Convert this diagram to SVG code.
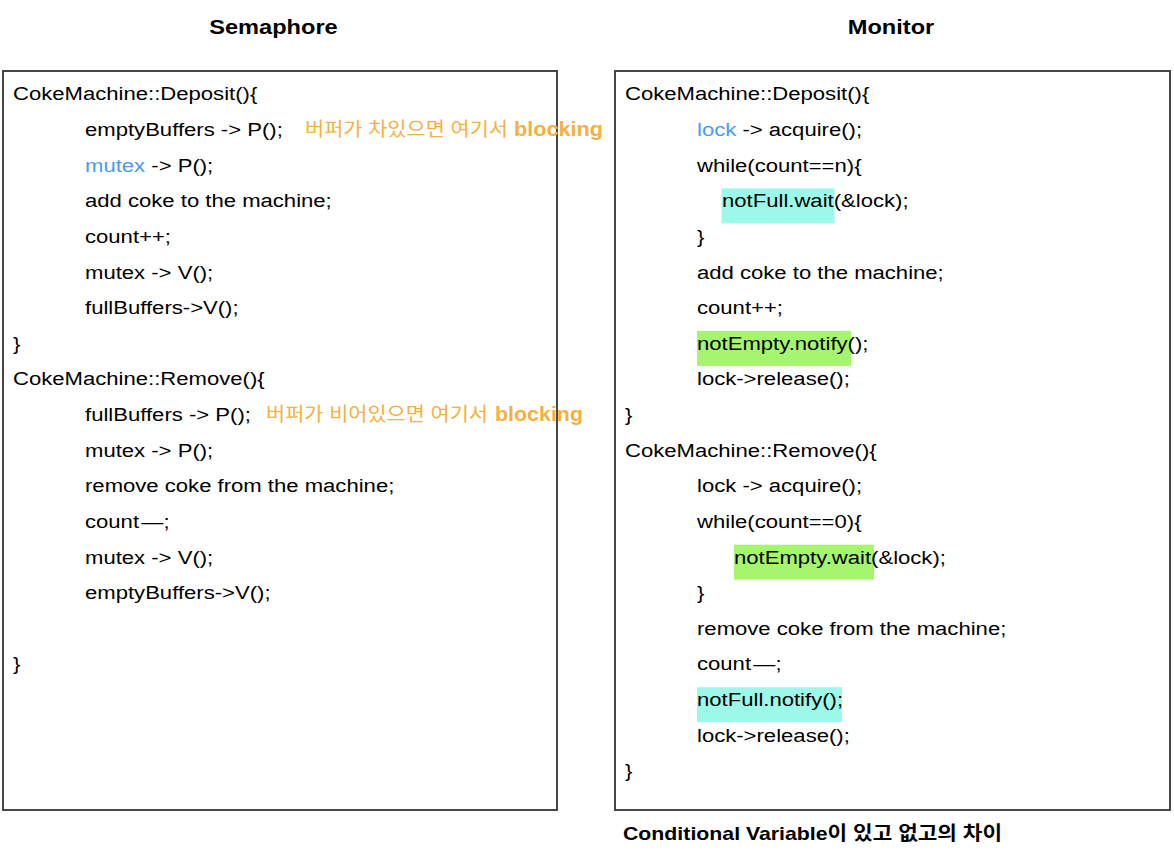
<svg xmlns="http://www.w3.org/2000/svg" width="1174" height="858" viewBox="0 0 1174 858">
<style>
text{font-family:"Liberation Sans",Arial,"Noto Sans CJK KR",sans-serif;fill:#000}
.c{font-size:19px}
.t{font-size:20px;font-weight:bold}
.blue{fill:#4A9BF0}
.ann{font-size:19.5px;fill:#F4B041}
.annb{font-size:19.5px;fill:#F4B041;font-weight:bold}
.lbl{font-size:19px;font-weight:bold}
.box{fill:#fff;stroke:#333;stroke-width:1.8}
.hc{fill:#9CF8E8}
.hg{fill:#A5F56E}
</style>
<rect width="1174" height="858" fill="#fff"/>
<g id="title-semaphore"><text class="t" text-anchor="middle" transform="translate(273.5,34) scale(1.18,1)">Semaphore</text></g>
<g id="title-monitor"><text class="t" text-anchor="middle" transform="translate(891,34) scale(1.18,1)">Monitor</text></g>

<g id="semaphore-box">
<rect class="box" x="3" y="71" width="554" height="739"/>
<text class="c" transform="translate(13,100.3) scale(1.163,1)">CokeMachine::Deposit(){</text>
<text class="c" transform="translate(85,135.9) scale(1.163,1)">emptyBuffers -&gt; P();</text>
<text class="c" transform="translate(85,171.6) scale(1.163,1)"><tspan class="blue">mutex</tspan> -&gt; P();</text>
<text class="c" transform="translate(85,207.2) scale(1.163,1)">add coke to the machine;</text>
<text class="c" transform="translate(85,242.8) scale(1.163,1)">count++;</text>
<text class="c" transform="translate(85,278.5) scale(1.163,1)">mutex -&gt; V();</text>
<text class="c" transform="translate(85,314.1) scale(1.163,1)">fullBuffers-&gt;V();</text>
<text class="c" transform="translate(13,349.7) scale(1.163,1)">}</text>
<text class="c" transform="translate(13,385.3) scale(1.163,1)">CokeMachine::Remove(){</text>
<text class="c" transform="translate(85,421) scale(1.163,1)">fullBuffers -&gt; P();</text>
<text class="c" transform="translate(85,456.6) scale(1.163,1)">mutex -&gt; P();</text>
<text class="c" transform="translate(85,492.2) scale(1.163,1)">remove coke from the machine;</text>
<text class="c" transform="translate(85,527.9) scale(1.163,1)">count<tspan dx="2">—</tspan>;</text>
<text class="c" transform="translate(85,563.5) scale(1.163,1)">mutex -&gt; V();</text>
<text class="c" transform="translate(85,599.1) scale(1.163,1)">emptyBuffers-&gt;V();</text>
<text class="c" transform="translate(13,670.4) scale(1.163,1)">}</text>
</g>

<g id="annotation-deposit">
<text class="ann" x="305" y="136.3" textLength="203" lengthAdjust="spacingAndGlyphs">버퍼가 차있으면 여기서</text>
<text class="annb" x="514" y="136.3" textLength="89" lengthAdjust="spacingAndGlyphs">blocking</text>
</g>
<g id="annotation-remove">
<text class="ann" x="266" y="421.4" textLength="222" lengthAdjust="spacingAndGlyphs">버퍼가 비어있으면 여기서</text>
<text class="annb" x="495" y="421.4" textLength="88" lengthAdjust="spacingAndGlyphs">blocking</text>
</g>

<g id="monitor-box">
<rect class="box" x="615" y="71" width="555" height="739"/>
<rect class="hc" x="721.5" y="188.4" width="113" height="35"/>
<rect class="hg" x="697" y="330.9" width="154" height="35"/>
<rect class="hg" x="734" y="544.7" width="140" height="35"/>
<rect class="hc" x="697" y="687.2" width="145" height="35"/>
<text class="c" transform="translate(625,100.3) scale(1.163,1)">CokeMachine::Deposit(){</text>
<text class="c" transform="translate(697,135.9) scale(1.163,1)"><tspan class="blue">lock</tspan> -&gt; acquire();</text>
<text class="c" transform="translate(697,171.6) scale(1.163,1)">while(count==n){</text>
<text class="c" transform="translate(722,207.2) scale(1.163,1)">notFull.wait(&amp;lock);</text>
<text class="c" transform="translate(697,242.8) scale(1.163,1)">}</text>
<text class="c" transform="translate(697,278.5) scale(1.163,1)">add coke to the machine;</text>
<text class="c" transform="translate(697,314.1) scale(1.163,1)">count++;</text>
<text class="c" transform="translate(697,349.7) scale(1.163,1)">notEmpty.notify();</text>
<text class="c" transform="translate(697,385.3) scale(1.163,1)">lock-&gt;release();</text>
<text class="c" transform="translate(625,421) scale(1.163,1)">}</text>
<text class="c" transform="translate(625,456.6) scale(1.163,1)">CokeMachine::Remove(){</text>
<text class="c" transform="translate(697,492.2) scale(1.163,1)">lock -&gt; acquire();</text>
<text class="c" transform="translate(697,527.9) scale(1.163,1)">while(count==0){</text>
<text class="c" transform="translate(734,563.5) scale(1.163,1)">notEmpty.wait(&amp;lock);</text>
<text class="c" transform="translate(697,599.1) scale(1.163,1)">}</text>
<text class="c" transform="translate(697,634.8) scale(1.163,1)">remove coke from the machine;</text>
<text class="c" transform="translate(697,670.4) scale(1.163,1)">count<tspan dx="2">—</tspan>;</text>
<text class="c" transform="translate(697,706) scale(1.163,1)">notFull.notify();</text>
<text class="c" transform="translate(697,741.6) scale(1.163,1)">lock-&gt;release();</text>
<text class="c" transform="translate(625,777.3) scale(1.163,1)">}</text>
</g>

<g id="caption">
<text class="lbl" x="623" y="839.5" textLength="379" lengthAdjust="spacingAndGlyphs">Conditional Variable이 있고 없고의 차이</text>
</g>
<g id="connectors"/>
</svg>
